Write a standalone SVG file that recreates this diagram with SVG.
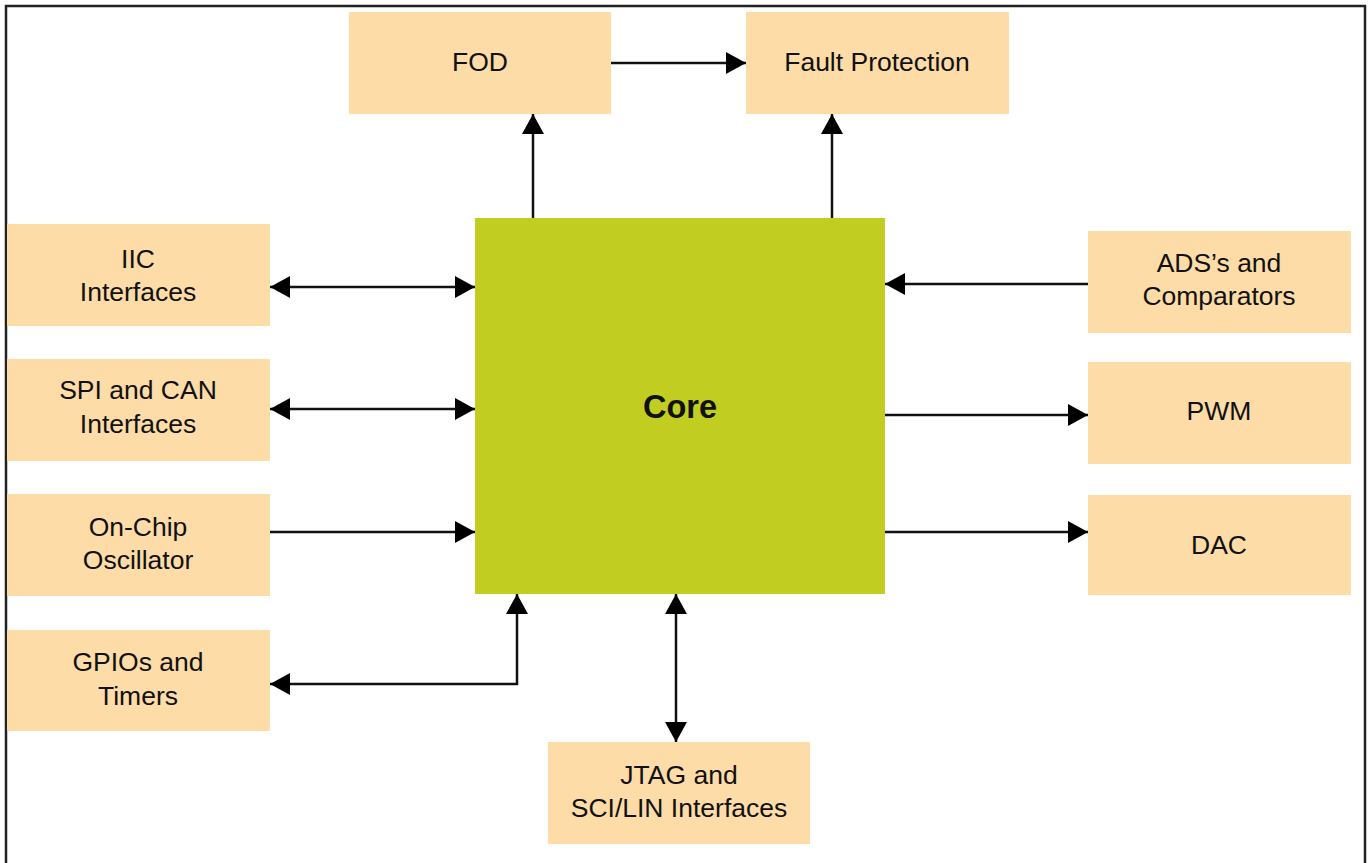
<svg xmlns="http://www.w3.org/2000/svg" width="1369" height="863" viewBox="0 0 1369 863">
<defs>
<style>
.box{fill:#FDDCA8;}
.core{fill:#C1CD20;}
.t{font-family:"Liberation Sans",Arial,sans-serif;font-size:26.5px;fill:#111;text-anchor:middle;}
.tc{font-family:"Liberation Sans",Arial,sans-serif;font-size:32.5px;font-weight:bold;fill:#111;text-anchor:middle;}
.c{fill:none;stroke:#111;stroke-width:2.5;}
</style>
<marker id="ah" markerUnits="userSpaceOnUse" markerWidth="22" markerHeight="24" refX="20" refY="11" orient="auto-start-reverse" viewBox="0 0 22 24">
<path d="M0,0 L20,11 L0,22 z" fill="#000"/>
</marker>
</defs>
<rect x="0" y="0" width="1369" height="863" fill="#fff"/>
<path d="M6,870 V6 H1365 V870" fill="none" stroke="#222" stroke-width="2.5"/>

<g id="fod"><rect class="box" x="349" y="12" width="262" height="102"/><text class="t" x="480" y="71">FOD</text></g>
<g id="fault"><rect class="box" x="746" y="12" width="263" height="102"/><text class="t" x="877" y="71">Fault Protection</text></g>
<g id="iic"><rect class="box" x="7" y="224" width="263" height="102"/><text class="t" x="138" y="268">IIC</text><text class="t" x="138" y="301">Interfaces</text></g>
<g id="spi"><rect class="box" x="7" y="359" width="263" height="102"/><text class="t" x="138" y="399">SPI and CAN</text><text class="t" x="138" y="433">Interfaces</text></g>
<g id="osc"><rect class="box" x="7" y="494" width="263" height="102"/><text class="t" x="138" y="536">On-Chip</text><text class="t" x="138" y="569">Oscillator</text></g>
<g id="gpio"><rect class="box" x="7" y="630" width="263" height="101"/><text class="t" x="138" y="671">GPIOs and</text><text class="t" x="138" y="705">Timers</text></g>
<g id="jtag"><rect class="box" x="548" y="742" width="262" height="102"/><text class="t" x="679" y="784">JTAG and</text><text class="t" x="679" y="817">SCI/LIN Interfaces</text></g>
<g id="ads"><rect class="box" x="1088" y="231" width="263" height="102"/><text class="t" x="1219" y="272">ADS’s and</text><text class="t" x="1219" y="305">Comparators</text></g>
<g id="pwm"><rect class="box" x="1088" y="362" width="263" height="102"/><text class="t" x="1219" y="420">PWM</text></g>
<g id="dac"><rect class="box" x="1088" y="495" width="263" height="100"/><text class="t" x="1219" y="554">DAC</text></g>
<g id="core"><rect class="core" x="475" y="218" width="410" height="376"/><text class="tc" x="680" y="418">Core</text></g>

<g id="connectors">
<path class="c" d="M611,63 H746" marker-end="url(#ah)"/>
<path class="c" d="M533,218 V114" marker-end="url(#ah)"/>
<path class="c" d="M832,218 V114" marker-end="url(#ah)"/>
<path class="c" d="M270,287 H475" marker-start="url(#ah)" marker-end="url(#ah)"/>
<path class="c" d="M270,409 H475" marker-start="url(#ah)" marker-end="url(#ah)"/>
<path class="c" d="M270,532 H475" marker-end="url(#ah)"/>
<path class="c" d="M270,684 H517 V594" marker-start="url(#ah)" marker-end="url(#ah)"/>
<path class="c" d="M676,594 V742" marker-start="url(#ah)" marker-end="url(#ah)"/>
<path class="c" d="M1088,284 H885" marker-end="url(#ah)"/>
<path class="c" d="M885,415 H1088" marker-end="url(#ah)"/>
<path class="c" d="M885,532 H1088" marker-end="url(#ah)"/>
</g>
</svg>
